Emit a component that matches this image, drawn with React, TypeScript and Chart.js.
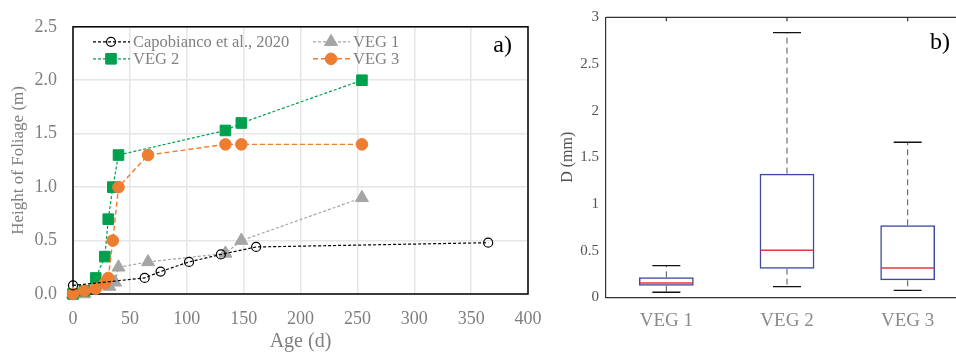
import React, { useEffect, useRef } from 'react';
import { Chart, registerables } from 'chart.js';
Chart.register(...registerables);

const FONT = '"Liberation Serif", "Times New Roman", serif';

// ---- Panel a) data ----
const capoX = [0, 63, 77, 102, 130, 161, 365];
const capoY = [0.08, 0.15, 0.21, 0.3, 0.37, 0.44, 0.48];
const veg1X = [0, 10, 32, 37, 40, 66, 134, 148, 254];
const veg1Y = [0, 0, 0.07, 0.11, 0.25, 0.3, 0.38, 0.5, 0.9];
const veg2X = [0, 10, 20, 28, 31, 35, 40, 134, 148, 254];
const veg2Y = [0, 0.03, 0.15, 0.35, 0.7, 1.0, 1.3, 1.53, 1.6, 2.0];
const veg3X = [0, 10, 20, 28, 31, 35, 40, 66, 134, 148, 254];
const veg3Y = [0, 0.03, 0.05, 0.1, 0.15, 0.5, 1.0, 1.3, 1.4, 1.4, 1.4];
const ageTicks = [0, 50, 100, 150, 200, 250, 300, 350, 400];
const heightTicks = [0, 0.5, 1.0, 1.5, 2.0, 2.5];

// ---- Panel b) data ----
const boxCats = ['VEG 1', 'VEG 2', 'VEG 3'];
const boxMin = [0.054, 0.114, 0.075];
const boxQ1 = [0.124, 0.307, 0.182];
const boxMed = [0.153, 0.504, 0.314];
const boxQ3 = [0.214, 1.325, 0.771];
const boxMax = [0.339, 2.836, 1.661];
const dTicks = [0, 0.5, 1, 1.5, 2, 2.5, 3];

const GREEN = '#00a04e';
const ORANGE = '#ed7d31';
const GREY = '#a5a5a5';

function zip(xs: number[], ys: number[]) {
  return xs.map((x, i) => ({ x, y: ys[i] }));
}

function drawMarker(ctx: CanvasRenderingContext2D, style: string, x: number, y: number, r: number, fill: string | null, stroke: string, lw: number) {
  ctx.save();
  ctx.setLineDash([]);
  ctx.beginPath();
  if (style === 'circle') {
    ctx.arc(x, y, r, 0, Math.PI * 2);
  } else if (style === 'rect') {
    const h = r * Math.SQRT1_2;
    ctx.rect(x - h, y - h, 2 * h, 2 * h);
  } else if (style === 'triangle') {
    for (let k = 0; k < 3; k++) {
      const a = (k * 2 * Math.PI) / 3;
      const px = x + Math.sin(a) * r;
      const py = y - Math.cos(a) * r;
      if (k === 0) ctx.moveTo(px, py); else ctx.lineTo(px, py);
    }
    ctx.closePath();
  }
  if (fill) { ctx.fillStyle = fill; ctx.fill(); }
  ctx.strokeStyle = stroke;
  ctx.lineWidth = lw;
  ctx.stroke();
  ctx.restore();
}

const panelAPlugin = {
  id: 'panelA',
  beforeDatasetsDraw(chart: any) {
    const { ctx, chartArea: a } = chart;
    ctx.save();
    ctx.strokeStyle = '#000';
    ctx.lineWidth = 1.5;
    ctx.strokeRect(a.left, a.top, a.right - a.left, a.bottom - a.top);
    ctx.restore();
  },
  afterDatasetsDraw(chart: any) {
    const { ctx, chartArea: a } = chart;
    const ds = chart.data.datasets;
    const slots = [
      { i: 0, col: 0, row: 0 },
      { i: 1, col: 1, row: 0 },
      { i: 2, col: 0, row: 1 },
      { i: 3, col: 1, row: 1 },
    ];
    ctx.save();
    ctx.font = '16.5px ' + FONT;
    ctx.textBaseline = 'middle';
    ctx.textAlign = 'left';
    for (const s of slots) {
      const d = ds[s.i];
      const x0 = a.left + (s.col === 0 ? 20 : 240);
      const y = a.top + 15 + s.row * 17;
      ctx.save();
      ctx.strokeStyle = d.borderColor;
      ctx.lineWidth = d.borderWidth;
      ctx.setLineDash(d.borderDash);
      ctx.beginPath();
      ctx.moveTo(x0, y);
      ctx.lineTo(x0 + 37, y);
      ctx.stroke();
      ctx.restore();
      drawMarker(ctx, d.pointStyle, x0 + 18, y, d.pointRadius,
        d.pointBackgroundColor === 'rgba(0,0,0,0)' ? null : d.pointBackgroundColor,
        d.pointBorderColor, d.pointBorderWidth);
      ctx.fillStyle = '#808080';
      ctx.fillText(d.label, x0 + 40, y + 1);
    }
    ctx.fillStyle = '#000';
    ctx.font = '24px ' + FONT;
    ctx.textAlign = 'right';
    ctx.fillText('a)', a.right - 16, a.top + 19);
    ctx.restore();
  },
};

const panelBPlugin = {
  id: 'panelB',
  beforeDatasetsDraw(chart: any) {
    const { ctx, chartArea: a } = chart;
    ctx.save();
    ctx.strokeStyle = '#333';
    ctx.lineWidth = 1.2;
    ctx.beginPath();
    ctx.moveTo(a.left, a.top);
    ctx.lineTo(a.right + 5, a.top);
    ctx.stroke();
    const xs = chart.scales.x;
    boxCats.forEach((_, i) => {
      const px = xs.getPixelForValue(i);
      ctx.beginPath();
      ctx.moveTo(px, a.top);
      ctx.lineTo(px, a.top + 4);
      ctx.stroke();
    });
    ctx.restore();
  },
  afterDatasetsDraw(chart: any) {
    const { ctx, chartArea: a } = chart;
    const xs = chart.scales.x;
    const ys = chart.scales.y;
    const meta = chart.getDatasetMeta(0);
    ctx.save();
    boxCats.forEach((_, i) => {
      const px = xs.getPixelForValue(i);
      const bw = meta.data[i].width;
      ctx.strokeStyle = '#555';
      ctx.lineWidth = 1;
      ctx.setLineDash([6, 4]);
      ctx.beginPath();
      ctx.moveTo(px, ys.getPixelForValue(boxQ3[i]));
      ctx.lineTo(px, ys.getPixelForValue(boxMax[i]));
      ctx.moveTo(px, ys.getPixelForValue(boxQ1[i]));
      ctx.lineTo(px, ys.getPixelForValue(boxMin[i]));
      ctx.stroke();
      ctx.setLineDash([]);
      ctx.strokeStyle = '#111';
      ctx.lineWidth = 1.3;
      ctx.beginPath();
      const cw = 14;
      ctx.moveTo(px - cw, ys.getPixelForValue(boxMax[i]));
      ctx.lineTo(px + cw, ys.getPixelForValue(boxMax[i]));
      ctx.moveTo(px - cw, ys.getPixelForValue(boxMin[i]));
      ctx.lineTo(px + cw, ys.getPixelForValue(boxMin[i]));
      ctx.stroke();
      ctx.strokeStyle = '#e8343a';
      ctx.lineWidth = 1.4;
      ctx.beginPath();
      ctx.moveTo(px - bw / 2 + 1, ys.getPixelForValue(boxMed[i]));
      ctx.lineTo(px + bw / 2 - 1, ys.getPixelForValue(boxMed[i]));
      ctx.stroke();
    });
    ctx.fillStyle = '#000';
    ctx.font = '24px ' + FONT;
    ctx.textAlign = 'right';
    ctx.textBaseline = 'middle';
    ctx.fillText('b)', a.right - 18, a.top + 25);
    ctx.restore();
  },
};

function PanelA() {
  const ref = useRef<HTMLCanvasElement>(null);
  useEffect(() => {
    const chart = new Chart(ref.current as HTMLCanvasElement, {
      type: 'line',
      data: {
        datasets: [
          {
            label: 'Capobianco et al., 2020',
            data: zip(capoX, capoY),
            borderColor: '#000', borderWidth: 1.2, borderDash: [3, 2],
            pointStyle: 'circle', pointRadius: 4.5,
            pointBackgroundColor: 'rgba(0,0,0,0)', pointBorderColor: '#000', pointBorderWidth: 1.2,
            order: 0,
          },
          {
            label: 'VEG 1',
            data: zip(veg1X, veg1Y),
            borderColor: GREY, borderWidth: 1.2, borderDash: [3, 2],
            pointStyle: 'triangle', pointRadius: 7.5,
            pointBackgroundColor: GREY, pointBorderColor: GREY, pointBorderWidth: 1,
            order: 3,
          },
          {
            label: 'VEG 2',
            data: zip(veg2X, veg2Y),
            borderColor: GREEN, borderWidth: 1.2, borderDash: [3, 2],
            pointStyle: 'rect', pointRadius: 7.5,
            pointBackgroundColor: GREEN, pointBorderColor: GREEN, pointBorderWidth: 1,
            order: 2,
          },
          {
            label: 'VEG 3',
            data: zip(veg3X, veg3Y),
            borderColor: ORANGE, borderWidth: 1.4, borderDash: [5, 3],
            pointStyle: 'circle', pointRadius: 5.8,
            pointBackgroundColor: ORANGE, pointBorderColor: ORANGE, pointBorderWidth: 1,
            order: 1,
          },
        ],
      },
      options: {
        responsive: false,
        animation: false,
        clip: false,
        layout: { padding: { left: 0, right: 32, top: 17, bottom: 0 } },
        plugins: { legend: { display: false }, tooltip: { enabled: false } },
        elements: { line: { tension: 0 } },
        scales: {
          x: {
            type: 'linear', min: 0, max: 400,
            afterBuildTicks: (s: any) => { s.ticks = ageTicks.map((v) => ({ value: v })); },
            afterFit: (s: any) => { s.height = 58; },
            grid: { color: '#e6e6e6', lineWidth: 1.5, drawTicks: false },
            border: { display: false },
            ticks: { color: '#7f7f7f', font: { family: FONT, size: 18 }, padding: 14, callback: (v: any) => String(v) },
            title: { display: true, text: 'Age (d)', color: '#7f7f7f', font: { family: FONT, size: 20, lineHeight: 1 }, padding: { top: 0, bottom: 0 } },
          },
          y: {
            type: 'linear', min: 0, max: 2.5,
            afterBuildTicks: (s: any) => { s.ticks = heightTicks.map((v) => ({ value: v })); },
            afterFit: (s: any) => { s.width = 73; },
            grid: { color: '#e6e6e6', lineWidth: 1.5, drawTicks: false },
            border: { display: false },
            ticks: { color: '#7f7f7f', font: { family: FONT, size: 18 }, padding: 16, callback: (v: any) => Number(v).toFixed(1) },
            title: { display: true, text: 'Height of Foliage (m)', color: '#7f7f7f', font: { family: FONT, size: 17, lineHeight: 1.2 }, padding: { top: 8, bottom: 0 } },
          },
        },
      },
      plugins: [panelAPlugin],
    } as any);
    return () => chart.destroy();
  }, []);
  return <canvas ref={ref} width={560} height={352} style={{ width: 560, height: 352, display: 'block' }} />;
}

function PanelB() {
  const ref = useRef<HTMLCanvasElement>(null);
  useEffect(() => {
    const chart = new Chart(ref.current as HTMLCanvasElement, {
      type: 'bar',
      data: {
        labels: boxCats,
        datasets: [
          {
            label: 'D',
            data: boxQ1.map((q, i) => [q, boxQ3[i]]),
            backgroundColor: 'rgba(0,0,0,0)',
            borderColor: '#3b4aa5',
            borderWidth: 1.5,
            borderSkipped: false,
            barPercentage: 0.454,
            categoryPercentage: 1,
          },
        ],
      },
      options: {
        responsive: false,
        animation: false,
        layout: { padding: { left: 0, right: 12, top: 17.3, bottom: 0 } },
        plugins: { legend: { display: false }, tooltip: { enabled: false } },
        scales: {
          x: {
            type: 'category',
            afterFit: (s: any) => { s.height = 54.7; },
            grid: { display: false, drawTicks: false },
            border: { display: true, color: '#333', width: 1.2 },
            ticks: { color: '#8a8a8a', font: { family: FONT, size: 19 }, padding: 12 },
          },
          y: {
            type: 'linear', min: 0, max: 3,
            afterBuildTicks: (s: any) => { s.ticks = dTicks.map((v) => ({ value: v })); },
            afterFit: (s: any) => { s.width = 46; },
            grid: { display: false, drawTicks: false },
            border: { display: true, color: '#333', width: 1.2 },
            ticks: { color: '#555', font: { family: FONT, size: 15 }, padding: 7, callback: (v: any) => String(v) },
            title: { display: true, text: 'D (mm)', color: '#555', font: { family: FONT, size: 16, lineHeight: 1.2 }, padding: { top: -2, bottom: 0 } },
          },
        },
      },
      plugins: [panelBPlugin],
    } as any);
    return () => chart.destroy();
  }, []);
  return <canvas ref={ref} width={420} height={352} style={{ width: 420, height: 352, display: 'block' }} />;
}

export default function App() {
  return (
    <div style={{ position: 'fixed', left: 0, top: 0, width: 956, height: 352, overflow: 'hidden', background: '#fff' }}>
      <div style={{ position: 'absolute', left: 0, top: 0 }}><PanelA /></div>
      <div style={{ position: 'absolute', left: 560, top: 0 }}><PanelB /></div>
    </div>
  );
}
